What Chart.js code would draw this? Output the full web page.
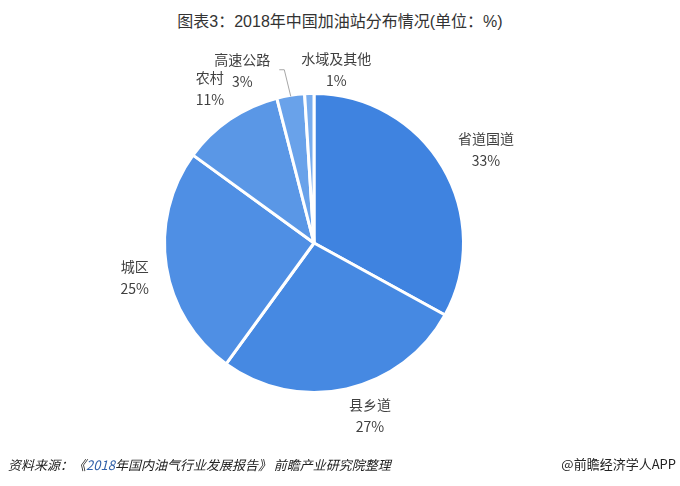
<!DOCTYPE html>
<html lang="zh">
<head>
    <meta charset="UTF-8">
    <title>2018年中国加油站分布情况</title>
    <script src="https://cdn.jsdelivr.net/npm/chart.js"></script>
    <style>
        * { box-sizing: border-box; margin: 0; padding: 0; }
        body { width: 680px; height: 486px; background: #fff; position: relative; overflow: hidden;
               font-family: "Noto Sans CJK SC", "Noto Sans", sans-serif; color: #333; }
        .title { position: absolute; top: 11px; left: 0; width: 680px; text-align: center; font-size: 16px; line-height: 22px;
                 color: #333; font-family: "Liberation Sans", "Noto Sans CJK SC", sans-serif; }
        .wrap { position: absolute; left: 0; top: 0; width: 680px; height: 486px; }
        .source { position: absolute; left: 8px; top: 455px; font-size: 13px; line-height: 20px; font-style: italic; color: #222; }
        .source .num { color: #2f5fa8; }
        .brand { position: absolute; right: 4px; top: 454px; font-size: 13px; color: #222; }
    </style>
</head>
<body>
    <div class="title">图表3：2018年中国加油站分布情况(单位：%)</div>
    <div class="wrap"><canvas id="pieChart" width="680" height="486"></canvas></div>
    <div class="source">资料来源：《<span class="num">2018</span>年国内油气行业发展报告》 前瞻产业研究院整理</div>
    <div class="brand">@前瞻经济学人APP</div>

    <script>
        // data
        const categories = ['省道国道', '县乡道', '城区', '农村', '高速公路', '水域及其他'];
        const shares = [33, 27, 25, 11, 3, 1];
        const sliceColors = ['#3f83e0', '#4689e2', '#4f8fe4', '#5a97e6', '#69a2ea', '#79adee'];

        // label nudges from the default anchor (px)
        const nudges = [[14, 0], [16, -6], [2, 6], [-1, -3], [-43, 9], [28, 10]];

        const labelPlugin = {
            id: 'outerLabels',
            afterDatasetsDraw(chart) {
                const ctx = chart.ctx;
                const arcs = chart.getDatasetMeta(0).data;
                ctx.save();
                ctx.font = '14px "Noto Sans CJK SC", sans-serif';
                ctx.fillStyle = '#404040';
                ctx.textAlign = 'center';
                ctx.textBaseline = 'middle';
                arcs.forEach((arc, i) => {
                    const mid = (arc.startAngle + arc.endAngle) / 2;
                    const r = arc.outerRadius + 34;
                    const x = arc.x + Math.cos(mid) * r + nudges[i][0];
                    const y = arc.y + Math.sin(mid) * r + nudges[i][1];
                    ctx.fillText(categories[i], x, y - 11);
                    ctx.fillText(shares[i] + '%', x, y + 11);
                    if (i === 4) {
                        // leader line to the small slice
                        const ex = arc.x + Math.cos(mid) * (arc.outerRadius - 1);
                        const ey = arc.y + Math.sin(mid) * (arc.outerRadius - 1);
                        ctx.strokeStyle = '#a6a6a6';
                        ctx.lineWidth = 1;
                        ctx.beginPath();
                        ctx.moveTo(x + 37, y - 1);
                        ctx.lineTo(x + 42, y - 1);
                        ctx.lineTo(ex, ey);
                        ctx.stroke();
                    }
                });
                ctx.restore();
            }
        };

        new Chart(document.getElementById('pieChart'), {
            type: 'pie',
            data: {
                labels: categories,
                datasets: [{
                    data: shares,
                    backgroundColor: sliceColors,
                    borderColor: '#ffffff',
                    borderWidth: 3
                }]
            },
            options: {
                responsive: false,
                animation: false,
                events: [],
                layout: { padding: { left: 162, right: 214, top: 92, bottom: 92 } },
                plugins: {
                    legend: { display: false },
                    tooltip: { enabled: false }
                }
            },
            plugins: [labelPlugin]
        });
    </script>
</body>
</html>
